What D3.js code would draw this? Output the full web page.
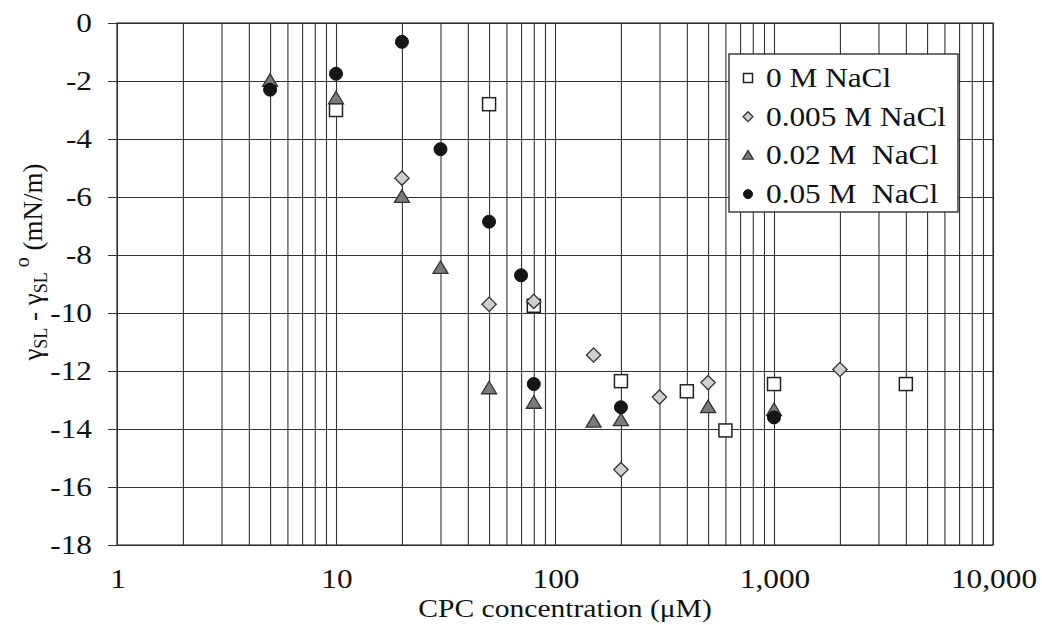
<!DOCTYPE html>
<html>
<head>
<meta charset="utf-8">
<script src="https://cdn.jsdelivr.net/npm/d3@7"></script>
<style>
  html, body { margin: 0; padding: 0; background: #fff; }
  svg { display: block; }
  text { font-family: "Liberation Serif", "DejaVu Serif", serif; fill: #111; }
</style>
</head>
<body>
<svg id="chart" width="1042" height="625"></svg>
<script>
// ---- data ----
const seriesNames = ["0 M NaCl", "0.005 M NaCl", "0.02 M  NaCl", "0.05 M  NaCl"];
const s0x = [10, 50, 80, 200, 400, 600, 1000, 4000];
const s0y = [-3.0, -2.8, -9.75, -12.35, -12.7, -14.05, -12.45, -12.45];
const s1x = [20, 50, 80, 150, 200, 300, 500, 2000];
const s1y = [-5.35, -9.7, -9.6, -11.45, -15.4, -12.9, -12.4, -11.95];
const s2x = [5, 10, 20, 30, 50, 80, 150, 200, 500, 1000];
const s2y = [-2.0, -2.6, -6.0, -8.45, -12.6, -13.1, -13.75, -13.7, -13.25, -13.35];
const s3x = [5, 10, 20, 30, 50, 70, 80, 200, 1000];
const s3y = [-2.3, -1.75, -0.65, -4.35, -6.85, -8.7, -12.45, -13.25, -13.6];
const xTickValues = [1, 10, 100, 1000, 10000];
const xTickLabels = ["1", "10", "100", "1,000", "10,000"];
const yTickValues = [0, -2, -4, -6, -8, -10, -12, -14, -16, -18];
const yTickLabels = ["0", "-2", "-4", "-6", "-8", "-10", "-12", "-14", "-16", "-18"];

// ---- layout ----
const pL = 117, pR = 993, pT = 23, pB = 545;
const FS = 27, SX = 1.16;
const svg = d3.select("#chart");
const x = d3.scaleLog().domain([1, 10000]).range([pL, pR]);
const y = d3.scaleLinear().domain([-18, 0]).range([pB, pT]);
const gridColor = "#333";

// vertical grid
const gx = svg.append("g").attr("transform", `translate(0,${pB})`)
  .call(d3.axisBottom(x).tickValues(x.ticks()).tickSize(-(pB - pT)).tickFormat(""));
gx.select(".domain").remove();
gx.selectAll("line").attr("stroke", gridColor).attr("stroke-width", 1.1);

// horizontal grid (with small outward ticks on the left)
const gy = svg.append("g").attr("transform", `translate(${pR},0)`)
  .call(d3.axisLeft(y).tickValues(yTickValues).tickSize(pR - pL + 9).tickFormat(""));
gy.select(".domain").remove();
gy.selectAll("line").attr("stroke", gridColor).attr("stroke-width", 1.1);

// border
svg.append("rect").attr("x", pL).attr("y", pT).attr("width", pR - pL).attr("height", pB - pT)
  .attr("fill", "none").attr("stroke", gridColor).attr("stroke-width", 1.2);

// y tick labels
yTickValues.forEach((v, i) => {
  svg.append("text")
    .attr("transform", `translate(92,${y(v) + 9}) scale(${SX},1)`)
    .attr("text-anchor", "end").attr("font-size", FS).text(yTickLabels[i]);
});
// x tick labels
xTickValues.forEach((v, i) => {
  svg.append("text")
    .attr("transform", `translate(${x(v) + 1},588) scale(${SX},1)`)
    .attr("text-anchor", "middle").attr("font-size", FS).text(xTickLabels[i]);
});
// x title
svg.append("text")
  .attr("transform", `translate(565,617) scale(${SX},1)`)
  .attr("text-anchor", "middle").attr("font-size", 25.5).text("CPC concentration (\u03BCM)");

// y title (rotated)
const yt = svg.append("text")
  .attr("transform", `translate(42,262) rotate(-90)`)
  .attr("text-anchor", "middle").attr("font-size", FS);
yt.append("tspan").text("\u03B3");
yt.append("tspan").attr("font-size", 18).attr("dy", 5).text("SL");
yt.append("tspan").attr("dy", -5).text(" - \u03B3");
yt.append("tspan").attr("font-size", 18).attr("dy", 5).text("SL");
yt.append("tspan").attr("font-size", 20).attr("dy", -18).text(" o");
yt.append("tspan").attr("dy", 13).text(" (mN/m)");

// ---- markers ----
function marker(g, type, cx, cy, s) {
  if (type === 0) {
    g.append("rect").attr("x", cx - s / 2).attr("y", cy - s / 2).attr("width", s).attr("height", s)
      .attr("fill", "#fff").attr("stroke", "#222").attr("stroke-width", 1.5);
  } else if (type === 1) {
    const h = s * 0.55;
    g.append("path").attr("d", `M${cx},${cy - h}L${cx + h},${cy}L${cx},${cy + h}L${cx - h},${cy}Z`)
      .attr("fill", "#cfcfcf").attr("stroke", "#333").attr("stroke-width", 1.3);
  } else if (type === 2) {
    const h = s * 0.55;
    g.append("path").attr("d", `M${cx},${cy - h}L${cx + h * 1.05},${cy + h * 0.75}L${cx - h * 1.05},${cy + h * 0.75}Z`)
      .attr("fill", "#7a7a7a").attr("stroke", "#333").attr("stroke-width", 1.3);
  } else {
    g.append("circle").attr("cx", cx).attr("cy", cy).attr("r", s / 2)
      .attr("fill", "#151515").attr("stroke", "#111").attr("stroke-width", 1);
  }
}
const series = [[s0x, s0y], [s1x, s1y], [s2x, s2y], [s3x, s3y]];
const marks = svg.append("g");
series.forEach(([xs, ys], k) => {
  xs.forEach((xv, i) => marker(marks, k, x(xv), y(ys[i]), 13));
});

// ---- legend ----
const lg = svg.append("g");
lg.append("rect").attr("x", 729).attr("y", 54).attr("width", 229).attr("height", 158)
  .attr("fill", "#fff").attr("stroke", "#222").attr("stroke-width", 1.3);
seriesNames.forEach((n, k) => {
  const cy = 78 + k * 38.7;
  marker(lg, k, 748, cy, 9);
  lg.append("text").attr("transform", `translate(766,${cy + 9}) scale(${SX},1)`)
    .attr("font-size", FS).attr("xml:space", "preserve").style("white-space", "pre").text(n);
});
</script>
</body>
</html>
